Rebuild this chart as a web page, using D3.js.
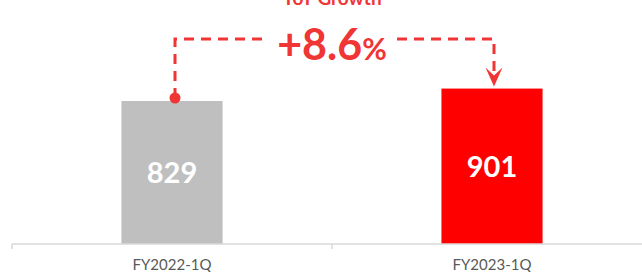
<!DOCTYPE html>
<html>
<head>
<meta charset="utf-8">
<script src="https://cdn.jsdelivr.net/npm/d3@7"></script>
<style>
	body { margin: 0; background: #fff; }
	svg { display: block; font-family: Lato, "Open Sans", sans-serif; }
</style>
</head>
<body>
<div id="chart"></div>
<script>
// data
var categories = ["FY2022-1Q", "FY2023-1Q"];
var values = [829, 901];
var barColors = ["#bfbfbf", "#ff0000"];
var growthLabel = "+8.6";
var titleText = "YoY Growth";

var width = 642, height = 272;
var baseY = 244;

var svg = d3.select("#chart")
	.append("svg")
	.attr("width", width)
	.attr("height", height);

// scales
var xScale = d3.scaleBand()
	.domain(categories)
	.range([12, 652])
	.paddingInner(0.684)
	.paddingOuter(0.342);

var yScale = d3.scaleLinear()
	.domain([0, 1000])
	.range([baseY, baseY - 172.5]);

function cx(c) { return xScale(c) + xScale.bandwidth() / 2; }

// bars
svg.selectAll("rect.bar")
	.data(values)
	.enter()
	.append("rect")
	.attr("class", "bar")
	.attr("x", function(d, i) { return xScale(categories[i]); })
	.attr("y", function(d) { return yScale(d); })
	.attr("width", xScale.bandwidth())
	.attr("height", function(d) { return yScale(0) - yScale(d); })
	.attr("fill", function(d, i) { return barColors[i]; });

// value labels
svg.selectAll("text.val")
	.data(values)
	.enter()
	.append("text")
	.attr("class", "val")
	.attr("x", function(d, i) { return cx(categories[i]); })
	.attr("y", function(d) { return (yScale(d) + yScale(0)) / 2; })
	.attr("dy", "0.36em")
	.attr("text-anchor", "middle")
	.attr("fill", "#fff")
	.attr("font-weight", "bold")
	.attr("font-size", 29)
	.text(function(d) { return d; });

// axis line + ticks
svg.append("line")
	.attr("x1", 12).attr("x2", width)
	.attr("y1", baseY).attr("y2", baseY)
	.attr("stroke", "#d9d9d9")
	.attr("stroke-width", 1.5);

var tickXs = [0, 1, 2].map(function(i) { return 12 + i * xScale.step(); });
svg.selectAll("line.tick")
	.data(tickXs)
	.enter()
	.append("line")
	.attr("class", "tick")
	.attr("x1", function(d) { return d; })
	.attr("x2", function(d) { return d; })
	.attr("y1", baseY)
	.attr("y2", baseY + 5)
	.attr("stroke", "#d9d9d9")
	.attr("stroke-width", 1.5);

svg.selectAll("text.cat")
	.data(categories)
	.enter()
	.append("text")
	.attr("class", "cat")
	.attr("x", function(d) { return cx(d); })
	.attr("y", 270)
	.attr("text-anchor", "middle")
	.attr("fill", "#595959")
	.attr("font-size", 15)
	.text(function(d) { return d; });

// growth connector
var red = "#f03535";
var lineY = 39;
var x1 = cx(categories[0]) + 3;
var x2 = cx(categories[1]) + 2;
var midX = (cx(categories[0]) + cx(categories[1])) / 2;
var dotY = yScale(values[0]) - 3;
var tipY = yScale(values[1]) - 2;

svg.append("path")
	.attr("d", "M" + x1 + "," + dotY + "V" + lineY + "H" + (midX - 70))
	.attr("fill", "none")
	.attr("stroke", red)
	.attr("stroke-width", 3)
	.attr("stroke-dasharray", "10,7");

svg.append("path")
	.attr("d", "M" + (midX + 65) + "," + lineY + "H" + x2 + "V" + (tipY - 12))
	.attr("fill", "none")
	.attr("stroke", red)
	.attr("stroke-width", 3)
	.attr("stroke-dasharray", "10,7");

svg.append("circle")
	.attr("cx", x1)
	.attr("cy", dotY)
	.attr("r", 5.5)
	.attr("fill", red);

svg.append("path")
	.attr("d", "M" + x2 + "," + tipY +
		"L" + (x2 - 8.5) + "," + (tipY - 19) +
		"L" + x2 + "," + (tipY - 11) +
		"L" + (x2 + 8.5) + "," + (tipY - 19) + "Z")
	.attr("fill", red);

// growth text
var gt = svg.append("text")
	.attr("x", midX)
	.attr("y", 60)
	.attr("text-anchor", "middle")
	.attr("fill", red)
	.attr("font-weight", "bold");
gt.append("tspan").attr("font-size", 43).text(growthLabel);
gt.append("tspan").attr("font-size", 30).text("%");

svg.append("text")
	.attr("x", midX)
	.attr("y", 5)
	.attr("text-anchor", "middle")
	.attr("fill", red)
	.attr("font-weight", "bold")
	.attr("font-size", 19)
	.text(titleText);
</script>
</body>
</html>
